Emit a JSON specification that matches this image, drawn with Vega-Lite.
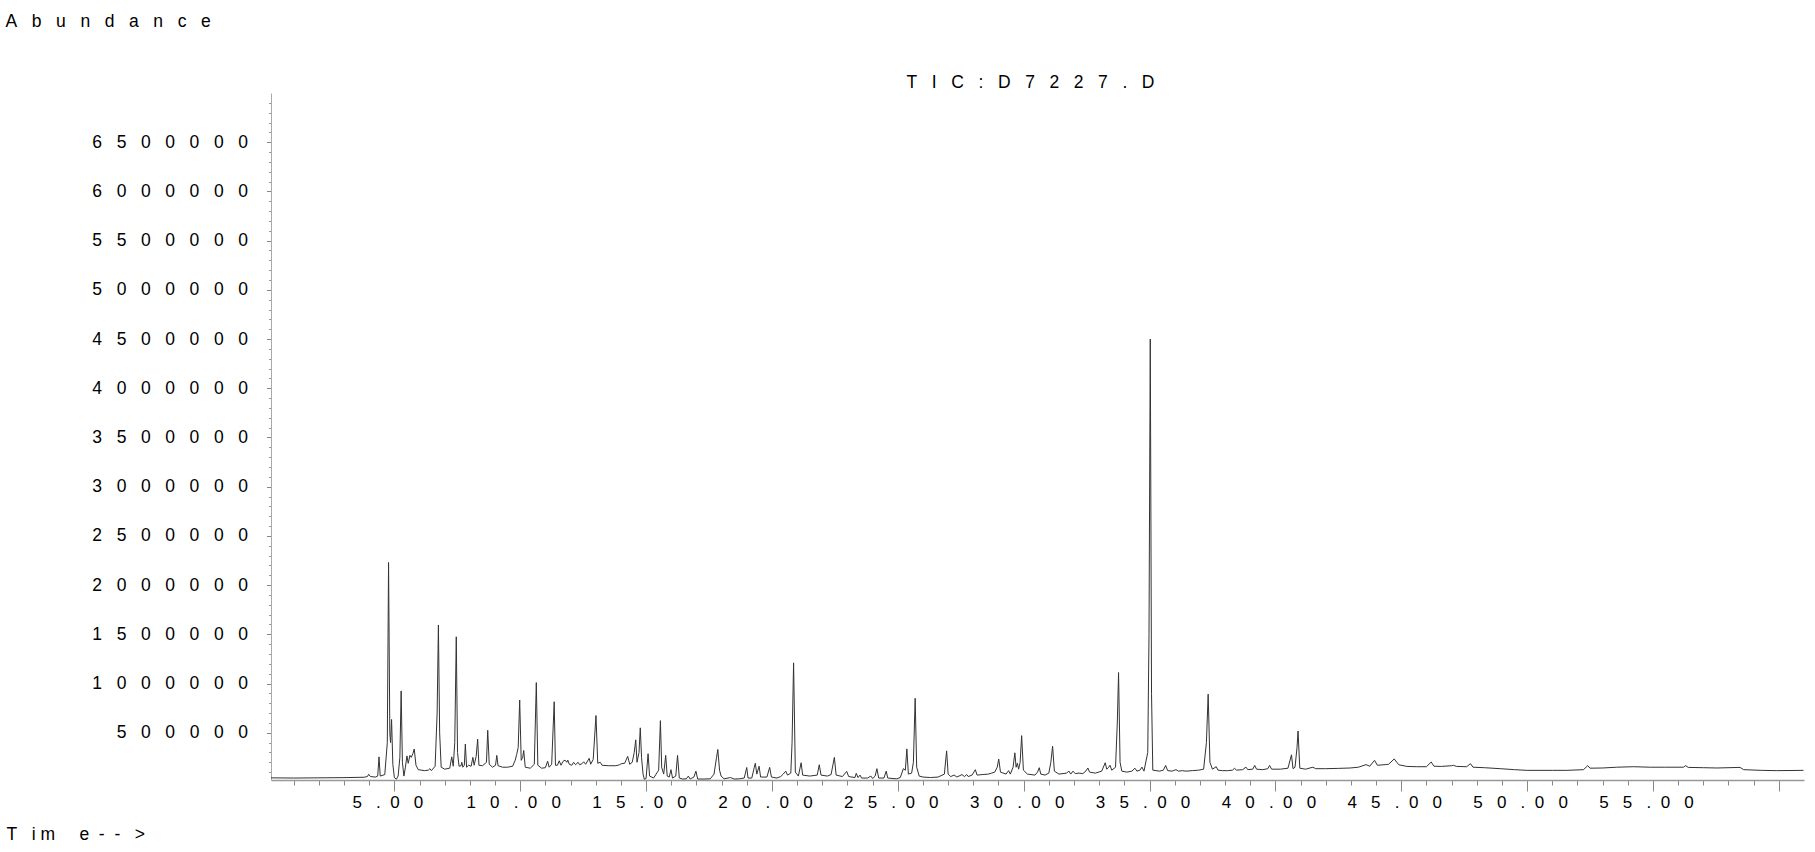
{
  "$schema": "https://vega.github.io/schema/vega-lite/v6.json",
  "autosize": {"type": "none"},
  "width": 1533,
  "height": 687,
  "padding": {"left": 271, "top": 93, "right": 11, "bottom": 72},
  "background": "white",
  "config": {"view": {"stroke": null}},
  "data": {"values": [
    {"t":0.10,"a":42000},{"t":1.0,"a":40000},{"t":2.0,"a":42000},{"t":3.0,"a":44000},{"t":3.8,"a":48000},{"t":3.93,"a":55000},{"t":3.98,"a":78000},{"t":4.05,"a":55000},{"t":4.25,"a":50000},{"t":4.34,"a":60000},{"t":4.39,"a":255000},{"t":4.44,"a":60000},{"t":4.62,"a":75000},{"t":4.72,"a":400000},{"t":4.77,"a":2230000},{"t":4.82,"a":500000},{"t":4.85,"a":400000},{"t":4.89,"a":635000},{"t":4.94,"a":180000},{"t":5.00,"a":45000},{"t":5.08,"a":28000},{"t":5.15,"a":60000},{"t":5.22,"a":250000},{"t":5.27,"a":925000},{"t":5.32,"a":200000},{"t":5.38,"a":60000},{"t":5.44,"a":150000},{"t":5.50,"a":265000},{"t":5.55,"a":190000},{"t":5.62,"a":270000},{"t":5.67,"a":250000},{"t":5.74,"a":290000},{"t":5.79,"a":335000},{"t":5.86,"a":170000},{"t":5.95,"a":125000},{"t":6.2,"a":115000},{"t":6.35,"a":120000},{"t":6.41,"a":135000},{"t":6.47,"a":115000},{"t":6.62,"a":160000},{"t":6.70,"a":700000},{"t":6.75,"a":1595000},{"t":6.80,"a":500000},{"t":6.86,"a":150000},{"t":7.0,"a":130000},{"t":7.20,"a":140000},{"t":7.28,"a":255000},{"t":7.34,"a":160000},{"t":7.40,"a":400000},{"t":7.46,"a":1475000},{"t":7.51,"a":300000},{"t":7.57,"a":160000},{"t":7.65,"a":165000},{"t":7.68,"a":200000},{"t":7.72,"a":150000},{"t":7.78,"a":170000},{"t":7.82,"a":385000},{"t":7.87,"a":150000},{"t":7.95,"a":170000},{"t":8.05,"a":160000},{"t":8.12,"a":250000},{"t":8.17,"a":170000},{"t":8.25,"a":260000},{"t":8.31,"a":435000},{"t":8.36,"a":170000},{"t":8.5,"a":165000},{"t":8.66,"a":200000},{"t":8.71,"a":525000},{"t":8.77,"a":180000},{"t":8.9,"a":150000},{"t":9.02,"a":170000},{"t":9.07,"a":270000},{"t":9.12,"a":165000},{"t":9.3,"a":150000},{"t":9.5,"a":150000},{"t":9.7,"a":160000},{"t":9.80,"a":220000},{"t":9.86,"a":280000},{"t":9.92,"a":350000},{"t":9.98,"a":832000},{"t":10.04,"a":220000},{"t":10.10,"a":250000},{"t":10.14,"a":320000},{"t":10.2,"a":150000},{"t":10.4,"a":140000},{"t":10.56,"a":180000},{"t":10.64,"a":1010000},{"t":10.70,"a":170000},{"t":10.85,"a":140000},{"t":11.0,"a":145000},{"t":11.09,"a":211000},{"t":11.15,"a":150000},{"t":11.25,"a":180000},{"t":11.35,"a":815000},{"t":11.40,"a":170000},{"t":11.48,"a":170000},{"t":11.55,"a":215000},{"t":11.62,"a":170000},{"t":11.70,"a":210000},{"t":11.78,"a":222000},{"t":11.85,"a":200000},{"t":11.89,"a":222000},{"t":11.95,"a":180000},{"t":12.05,"a":170000},{"t":12.12,"a":200000},{"t":12.2,"a":175000},{"t":12.30,"a":200000},{"t":12.36,"a":175000},{"t":12.45,"a":185000},{"t":12.52,"a":205000},{"t":12.6,"a":180000},{"t":12.74,"a":240000},{"t":12.8,"a":180000},{"t":12.9,"a":230000},{"t":13.01,"a":675000},{"t":13.08,"a":190000},{"t":13.18,"a":200000},{"t":13.25,"a":170000},{"t":13.5,"a":165000},{"t":13.8,"a":165000},{"t":13.95,"a":175000},{"t":14.01,"a":185000},{"t":14.15,"a":190000},{"t":14.27,"a":260000},{"t":14.35,"a":180000},{"t":14.45,"a":200000},{"t":14.53,"a":300000},{"t":14.59,"a":428000},{"t":14.64,"a":200000},{"t":14.72,"a":300000},{"t":14.77,"a":550000},{"t":14.82,"a":250000},{"t":14.88,"a":80000},{"t":14.93,"a":28000},{"t":15.0,"a":35000},{"t":15.08,"a":287000},{"t":15.14,"a":60000},{"t":15.3,"a":40000},{"t":15.50,"a":120000},{"t":15.57,"a":623000},{"t":15.62,"a":150000},{"t":15.70,"a":80000},{"t":15.78,"a":270000},{"t":15.84,"a":60000},{"t":15.92,"a":50000},{"t":15.99,"a":125000},{"t":16.05,"a":40000},{"t":16.18,"a":60000},{"t":16.25,"a":270000},{"t":16.32,"a":40000},{"t":16.45,"a":30000},{"t":16.6,"a":32000},{"t":16.68,"a":60000},{"t":16.75,"a":30000},{"t":16.9,"a":50000},{"t":16.98,"a":110000},{"t":17.05,"a":30000},{"t":17.3,"a":30000},{"t":17.55,"a":32000},{"t":17.7,"a":80000},{"t":17.80,"a":250000},{"t":17.85,"a":330000},{"t":17.92,"a":120000},{"t":17.98,"a":60000},{"t":18.1,"a":32000},{"t":18.35,"a":45000},{"t":18.5,"a":30000},{"t":18.7,"a":32000},{"t":18.9,"a":40000},{"t":19.00,"a":147000},{"t":19.05,"a":40000},{"t":19.2,"a":40000},{"t":19.30,"a":150000},{"t":19.34,"a":190000},{"t":19.40,"a":80000},{"t":19.49,"a":160000},{"t":19.55,"a":50000},{"t":19.8,"a":50000},{"t":19.91,"a":148000},{"t":19.98,"a":50000},{"t":20.2,"a":40000},{"t":20.35,"a":55000},{"t":20.45,"a":80000},{"t":20.55,"a":110000},{"t":20.62,"a":70000},{"t":20.75,"a":90000},{"t":20.80,"a":400000},{"t":20.86,"a":1210000},{"t":20.93,"a":100000},{"t":21.05,"a":60000},{"t":21.16,"a":195000},{"t":21.22,"a":70000},{"t":21.5,"a":60000},{"t":21.8,"a":70000},{"t":21.88,"a":175000},{"t":21.95,"a":70000},{"t":22.2,"a":60000},{"t":22.35,"a":75000},{"t":22.48,"a":250000},{"t":22.55,"a":70000},{"t":22.8,"a":55000},{"t":22.97,"a":107000},{"t":23.05,"a":55000},{"t":23.3,"a":45000},{"t":23.35,"a":88000},{"t":23.42,"a":45000},{"t":23.5,"a":70000},{"t":23.56,"a":40000},{"t":23.8,"a":40000},{"t":23.93,"a":60000},{"t":24.0,"a":35000},{"t":24.10,"a":60000},{"t":24.17,"a":135000},{"t":24.24,"a":40000},{"t":24.45,"a":40000},{"t":24.54,"a":110000},{"t":24.6,"a":40000},{"t":24.95,"a":32000},{"t":25.10,"a":45000},{"t":25.22,"a":135000},{"t":25.30,"a":120000},{"t":25.36,"a":336000},{"t":25.42,"a":80000},{"t":25.55,"a":90000},{"t":25.62,"a":200000},{"t":25.69,"a":850000},{"t":25.75,"a":150000},{"t":25.85,"a":60000},{"t":26.0,"a":50000},{"t":26.3,"a":45000},{"t":26.6,"a":50000},{"t":26.85,"a":80000},{"t":26.94,"a":316000},{"t":27.0,"a":80000},{"t":27.1,"a":55000},{"t":27.24,"a":70000},{"t":27.35,"a":50000},{"t":27.55,"a":75000},{"t":27.65,"a":55000},{"t":27.74,"a":75000},{"t":27.8,"a":55000},{"t":27.95,"a":70000},{"t":28.08,"a":125000},{"t":28.15,"a":70000},{"t":28.35,"a":75000},{"t":28.6,"a":80000},{"t":28.73,"a":90000},{"t":28.85,"a":100000},{"t":28.95,"a":150000},{"t":29.01,"a":232000},{"t":29.08,"a":100000},{"t":29.3,"a":80000},{"t":29.40,"a":115000},{"t":29.47,"a":80000},{"t":29.58,"a":150000},{"t":29.65,"a":296000},{"t":29.70,"a":150000},{"t":29.75,"a":190000},{"t":29.80,"a":130000},{"t":29.86,"a":200000},{"t":29.92,"a":471000},{"t":29.99,"a":120000},{"t":30.15,"a":80000},{"t":30.45,"a":70000},{"t":30.55,"a":100000},{"t":30.62,"a":145000},{"t":30.68,"a":80000},{"t":30.85,"a":70000},{"t":31.0,"a":90000},{"t":31.08,"a":200000},{"t":31.15,"a":363000},{"t":31.22,"a":110000},{"t":31.4,"a":80000},{"t":31.7,"a":90000},{"t":31.8,"a":110000},{"t":31.87,"a":80000},{"t":31.96,"a":110000},{"t":32.05,"a":85000},{"t":32.2,"a":90000},{"t":32.35,"a":85000},{"t":32.47,"a":110000},{"t":32.55,"a":142000},{"t":32.62,"a":100000},{"t":32.85,"a":90000},{"t":33.1,"a":110000},{"t":33.24,"a":195000},{"t":33.30,"a":130000},{"t":33.38,"a":150000},{"t":33.43,"a":170000},{"t":33.50,"a":120000},{"t":33.65,"a":150000},{"t":33.72,"a":600000},{"t":33.77,"a":1112000},{"t":33.83,"a":200000},{"t":33.9,"a":110000},{"t":34.1,"a":100000},{"t":34.3,"a":110000},{"t":34.42,"a":140000},{"t":34.5,"a":110000},{"t":34.62,"a":120000},{"t":34.70,"a":151000},{"t":34.78,"a":110000},{"t":34.93,"a":300000},{"t":34.98,"a":1500000},{"t":35.03,"a":4500000},{"t":35.08,"a":900000},{"t":35.13,"a":120000},{"t":35.4,"a":110000},{"t":35.55,"a":120000},{"t":35.64,"a":168000},{"t":35.72,"a":115000},{"t":35.9,"a":110000},{"t":36.05,"a":125000},{"t":36.15,"a":110000},{"t":36.3,"a":115000},{"t":36.45,"a":110000},{"t":36.7,"a":115000},{"t":36.95,"a":120000},{"t":37.15,"a":130000},{"t":37.26,"a":400000},{"t":37.33,"a":892000},{"t":37.40,"a":200000},{"t":37.5,"a":130000},{"t":37.65,"a":155000},{"t":37.72,"a":120000},{"t":37.9,"a":115000},{"t":38.1,"a":115000},{"t":38.3,"a":120000},{"t":38.38,"a":140000},{"t":38.45,"a":120000},{"t":38.7,"a":125000},{"t":38.83,"a":151000},{"t":38.9,"a":125000},{"t":39.1,"a":130000},{"t":39.18,"a":168000},{"t":39.25,"a":130000},{"t":39.5,"a":125000},{"t":39.7,"a":135000},{"t":39.77,"a":168000},{"t":39.85,"a":130000},{"t":40.2,"a":130000},{"t":40.5,"a":140000},{"t":40.64,"a":276000},{"t":40.70,"a":135000},{"t":40.78,"a":150000},{"t":40.86,"a":350000},{"t":40.90,"a":518000},{"t":40.97,"a":140000},{"t":41.2,"a":130000},{"t":41.49,"a":150000},{"t":41.6,"a":135000},{"t":42.0,"a":135000},{"t":42.5,"a":138000},{"t":42.97,"a":142000},{"t":43.3,"a":150000},{"t":43.6,"a":176000},{"t":43.75,"a":160000},{"t":43.94,"a":220000},{"t":44.05,"a":170000},{"t":44.36,"a":176000},{"t":44.5,"a":180000},{"t":44.72,"a":234000},{"t":44.9,"a":175000},{"t":45.22,"a":158000},{"t":45.6,"a":155000},{"t":46.0,"a":155000},{"t":46.19,"a":203000},{"t":46.3,"a":160000},{"t":46.6,"a":158000},{"t":47.0,"a":165000},{"t":47.07,"a":169000},{"t":47.2,"a":158000},{"t":47.6,"a":155000},{"t":47.75,"a":186000},{"t":47.85,"a":150000},{"t":48.3,"a":145000},{"t":48.93,"a":135000},{"t":49.5,"a":125000},{"t":50.0,"a":118000},{"t":51.0,"a":118000},{"t":51.58,"a":118000},{"t":52.24,"a":125000},{"t":52.41,"a":166000},{"t":52.5,"a":140000},{"t":53.0,"a":142000},{"t":53.56,"a":150000},{"t":54.23,"a":155000},{"t":54.89,"a":150000},{"t":55.5,"a":150000},{"t":56.21,"a":150000},{"t":56.3,"a":166000},{"t":56.4,"a":148000},{"t":57.0,"a":145000},{"t":57.54,"a":142000},{"t":58.46,"a":148000},{"t":58.6,"a":125000},{"t":59.3,"a":118000},{"t":59.92,"a":115000},{"t":60.98,"a":118000}
  ]},
  "layer": [
    {
      "mark": {"type": "line", "strokeOpacity": 0, "clip": false},
      "encoding": {
        "x": {"field": "t", "type": "quantitative", "scale": {"domain": [0.1, 61.0], "nice": false, "zero": false},
          "axis": {"orient": "bottom", "values": [1,2,3,4,6,7,8,9,11,12,13,14,16,17,18,19,21,22,23,24,26,27,28,29,31,32,33,34,36,37,38,39,41,42,43,44,46,47,48,49,51,52,53,54,56,57,58,59], "labels": false, "tickSize": 5, "tickColor": "#888", "tickWidth": 1, "domain": false, "grid": false, "title": null}},
        "y": {"field": "a", "type": "quantitative", "scale": {"domain": [20000, 7000000], "nice": false, "zero": false},
          "axis": {"orient": "left", "values": [100000,200000,300000,400000,600000,700000,800000,900000,1100000,1200000,1300000,1400000,1600000,1700000,1800000,1900000,2100000,2200000,2300000,2400000,2600000,2700000,2800000,2900000,3100000,3200000,3300000,3400000,3600000,3700000,3800000,3900000,4100000,4200000,4300000,4400000,4600000,4700000,4800000,4900000,5100000,5200000,5300000,5400000,5600000,5700000,5800000,5900000,6100000,6200000,6300000,6400000,6600000,6700000,6800000,6900000], "labels": false, "tickSize": 2.5, "tickColor": "#999", "tickWidth": 1, "domain": false, "grid": false, "title": null}}
      }
    },
    {
      "mark": {"type": "line", "strokeOpacity": 0, "clip": false},
      "encoding": {
        "x": {"field": "t", "type": "quantitative", "scale": {"domain": [0.1, 61.0], "nice": false, "zero": false},
          "axis": {"orient": "top", "values": [], "labels": false, "ticks": false, "domain": false, "grid": false,
            "title": "T\u00a0\u00a0\u00a0I\u00a0\u00a0\u00a0C\u00a0\u00a0\u00a0:\u00a0\u00a0\u00a0D\u00a0\u00a0\u00a07\u00a0\u00a0\u00a02\u00a0\u00a0\u00a02\u00a0\u00a0\u00a07\u00a0\u00a0\u00a0.\u00a0\u00a0\u00a0D",
            "titleFont": "Liberation Sans", "titleFontSize": 17.5, "titleFontWeight": "normal", "titleColor": "#000", "titleAngle": 0, "titleAlign": "center", "titleBaseline": "alphabetic", "titleX": 759, "titleY": -6}}
      }
    },
    {
      "mark": {"type": "line", "stroke": "#333", "strokeWidth": 1, "clip": false},
      "encoding": {
        "x": {"field": "t", "type": "quantitative", "scale": {"domain": [0.1, 61.0], "nice": false, "zero": false},
          "axis": {"orient": "bottom", "values": [5,10,15,20,25,30,35,40,45,50,55,60], "tickSize": 11, "tickColor": "#888", "tickWidth": 1, "domainColor": "#999", "domainWidth": 1.5, "grid": false,
            "labelExpr": "datum.value >= 60 ? '' : replace(join(split(format(datum.value, '.2f'), ''), '\u00a0\u00a0\u00a0'), '.\u00a0\u00a0\u00a0', '.\u00a0\u00a0')",
            "labelFont": "Liberation Sans", "labelFontSize": 17, "labelColor": "#000", "labelPadding": 16, "labelBaseline": "alphabetic", "labelOffset": -7, "labelFlush": false, "labelOverlap": false, "labelBound": false,
            "title": "T\u00a0\u00a0\u00a0i\u00a0m\u00a0\u00a0\u00a0\u00a0\u00a0e\u00a0\u00a0-\u00a0\u00a0-\u00a0\u00a0\u00a0>", "titleFont": "Liberation Sans", "titleFontSize": 17.5, "titleFontWeight": "normal", "titleColor": "#000", "titleAngle": 0, "titleAlign": "left", "titleBaseline": "alphabetic", "titleX": -265, "titleY": 59}},
        "y": {"field": "a", "type": "quantitative", "scale": {"domain": [20000, 7000000], "nice": false, "zero": false},
          "axis": {"orient": "left", "values": [500000,1000000,1500000,2000000,2500000,3000000,3500000,4000000,4500000,5000000,5500000,6000000,6500000], "tickSize": 4.5, "tickColor": "#888", "tickWidth": 1, "domainColor": "#aaa", "domainWidth": 1, "grid": false,
            "labelExpr": "join(split(format(datum.value, 'd'), ''), '\u00a0\u00a0\u00a0')",
            "labelFont": "Liberation Sans", "labelFontSize": 17.5, "labelColor": "#000", "labelPadding": 19, "labelBaseline": "middle", "labelFlush": false, "labelOverlap": false, "labelBound": false,
            "title": "A\u00a0\u00a0\u00a0b\u00a0\u00a0\u00a0u\u00a0\u00a0\u00a0n\u00a0\u00a0\u00a0d\u00a0\u00a0\u00a0a\u00a0\u00a0\u00a0n\u00a0\u00a0\u00a0c\u00a0\u00a0\u00a0e", "titleFont": "Liberation Sans", "titleFontSize": 17.5, "titleFontWeight": "normal", "titleColor": "#000", "titleAngle": 0, "titleAlign": "left", "titleBaseline": "alphabetic", "titleX": -266, "titleY": -67}}
      }
    }
  ],
  "resolve": {"axis": {"x": "independent", "y": "independent"}}
}
